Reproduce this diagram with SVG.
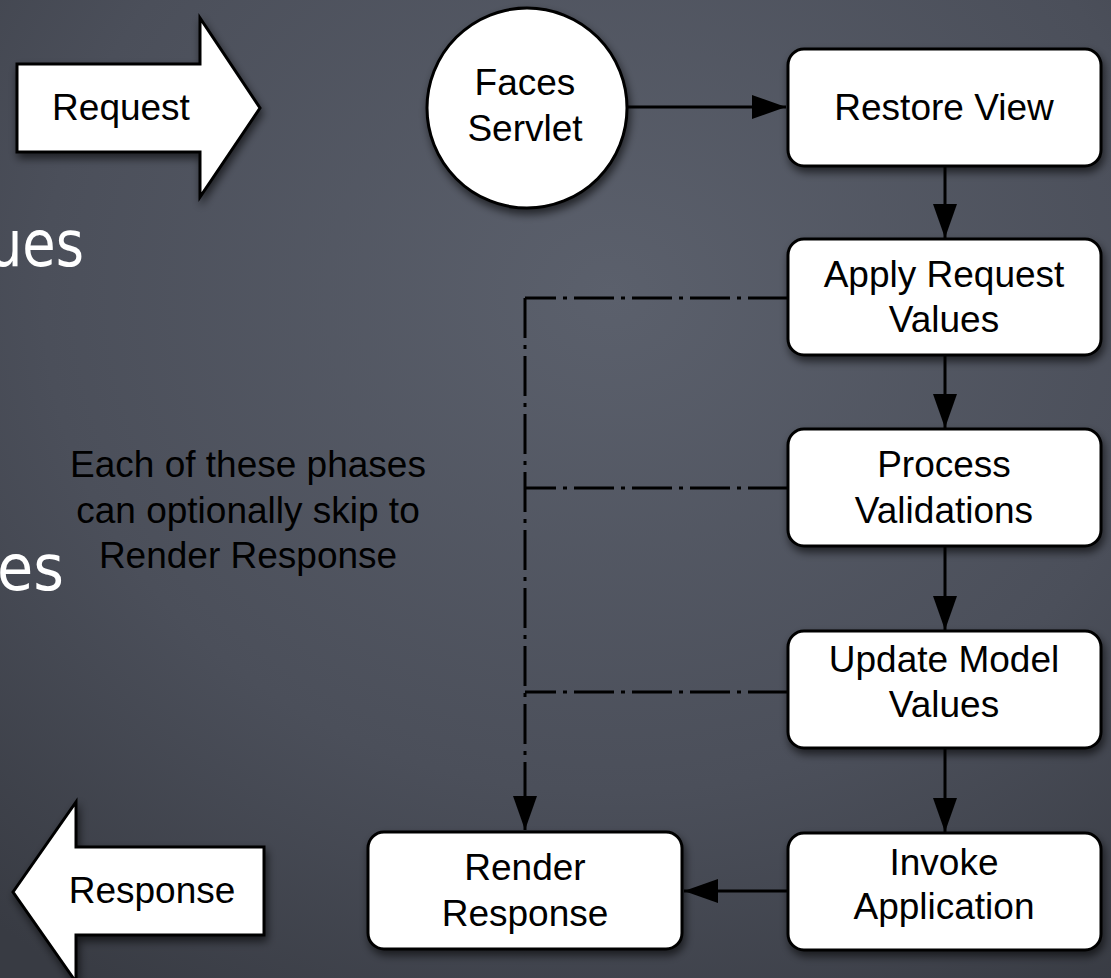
<svg xmlns="http://www.w3.org/2000/svg" width="1111" height="978" viewBox="0 0 1111 978">
<style>
.lbl{font-family:"Liberation Sans",Arial,Helvetica,sans-serif;font-size:37px;fill:#000;text-anchor:middle}
.chalk{font-family:"DejaVu Sans","Noto Sans",sans-serif;font-size:64px;fill:#fff}
.node{fill:#fff;stroke:#000;stroke-width:3}
.conn{fill:none;stroke:#000;stroke-width:3}
.dd{fill:none;stroke:#000;stroke-width:3;stroke-dasharray:40 7 4 7}
</style>
<defs>
<radialGradient id="bg" cx="0.55" cy="0.3" r="0.85">
<stop offset="0" stop-color="#5b606c"/>
<stop offset="0.6" stop-color="#4b4f5a"/>
<stop offset="1" stop-color="#383b43"/>
</radialGradient>
<filter id="sh" x="-20%" y="-20%" width="140%" height="150%">
<feDropShadow dx="2" dy="5" stdDeviation="4" flood-color="#000" flood-opacity="0.6"/>
</filter>
<marker id="ah" markerUnits="userSpaceOnUse" markerWidth="34" markerHeight="24" refX="34" refY="12" orient="auto">
<path d="M0,0 L34,12 L0,24 z" fill="#000"/>
</marker>
</defs>
<rect width="1111" height="978" fill="url(#bg)"/>
<text class="chalk" x="-12" y="266" textLength="96" lengthAdjust="spacingAndGlyphs">ues</text>
<text class="chalk" x="-3" y="590" textLength="67" lengthAdjust="spacingAndGlyphs">es</text>
<g id="connectors">
<line class="conn" x1="627" y1="107" x2="786" y2="107" marker-end="url(#ah)"/>
<line class="conn" x1="945" y1="166" x2="945" y2="238" marker-end="url(#ah)"/>
<line class="conn" x1="945" y1="355" x2="945" y2="428" marker-end="url(#ah)"/>
<line class="conn" x1="945" y1="546" x2="945" y2="630" marker-end="url(#ah)"/>
<line class="conn" x1="945" y1="748" x2="945" y2="832" marker-end="url(#ah)"/>
<line class="conn" x1="788" y1="891" x2="684" y2="891" marker-end="url(#ah)"/>
<path class="dd" d="M788,298 H525"/>
<path class="dd" d="M788,488 H525"/>
<path class="dd" d="M788,692 H525"/>
<path class="dd" d="M525,298 V830" marker-end="url(#ah)"/>
</g>
<g id="request">
<polygon class="node" filter="url(#sh)" points="17,64 200,64 200,18 260,108 200,197 200,152 17,152"/>
<text class="lbl" x="121" y="120">Request</text>
</g>
<g id="response">
<polygon class="node" filter="url(#sh)" points="13,892 76,802 76,847 264,847 264,935 76,935 76,982"/>
<text class="lbl" x="152" y="903">Response</text>
</g>
<g id="faces-servlet">
<circle class="node" filter="url(#sh)" cx="527" cy="108" r="100"/>
<text class="lbl" x="525" y="95">Faces</text>
<text class="lbl" x="525" y="141">Servlet</text>
</g>
<g id="restore-view">
<rect class="node" filter="url(#sh)" x="788" y="49" width="313" height="117" rx="16"/>
<text class="lbl" x="944" y="120">Restore View</text>
</g>
<g id="apply-request-values">
<rect class="node" filter="url(#sh)" x="788" y="239" width="313" height="116" rx="16"/>
<text class="lbl" x="944" y="287">Apply Request</text>
<text class="lbl" x="944" y="332">Values</text>
</g>
<g id="process-validations">
<rect class="node" filter="url(#sh)" x="788" y="429" width="313" height="117" rx="16"/>
<text class="lbl" x="944" y="477">Process</text>
<text class="lbl" x="944" y="523">Validations</text>
</g>
<g id="update-model-values">
<rect class="node" filter="url(#sh)" x="788" y="631" width="313" height="117" rx="16"/>
<text class="lbl" x="944" y="672">Update Model</text>
<text class="lbl" x="944" y="717">Values</text>
</g>
<g id="invoke-application">
<rect class="node" filter="url(#sh)" x="788" y="833" width="313" height="117" rx="16"/>
<text class="lbl" x="944" y="875">Invoke</text>
<text class="lbl" x="944" y="919">Application</text>
</g>
<g id="render-response">
<rect class="node" filter="url(#sh)" x="368" y="832" width="314" height="117" rx="16"/>
<text class="lbl" x="525" y="880">Render</text>
<text class="lbl" x="525" y="926">Response</text>
</g>
<g id="note">
<text class="lbl" x="248" y="477">Each of these phases</text>
<text class="lbl" x="248" y="523">can optionally skip to</text>
<text class="lbl" x="248" y="568">Render Response</text>
</g>
</svg>
